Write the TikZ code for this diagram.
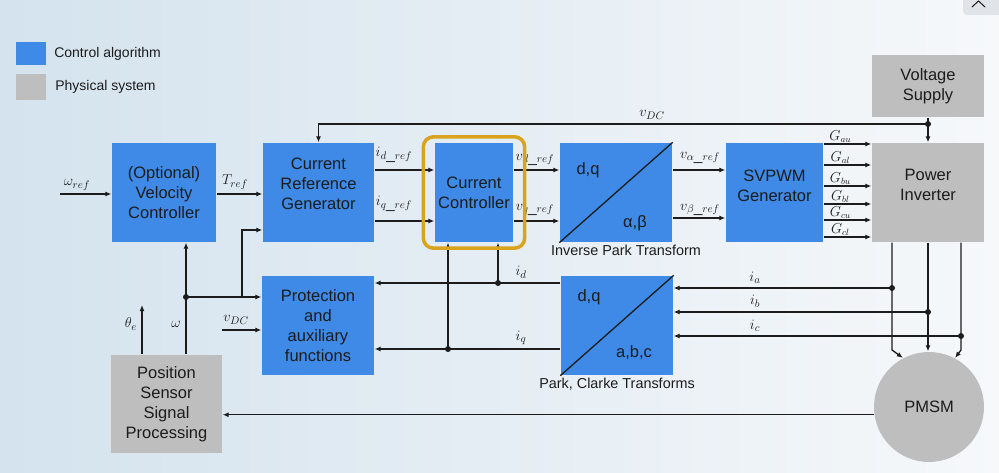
\documentclass[tikz,border=0pt]{standalone}
\usepackage{fontspec}
\setmainfont{Liberation Sans}
\usetikzlibrary{arrows.meta,positioning,fit}

\definecolor{ctlblue}{RGB}{62,138,230}
\definecolor{physgrey}{RGB}{190,190,190}
\definecolor{ringgold}{RGB}{218,163,30}
\definecolor{ink}{RGB}{28,28,28}
\definecolor{bgleft}{RGB}{212,227,238}
\definecolor{bgright}{RGB}{246,248,250}
\definecolor{btngrey}{RGB}{224,227,231}

\newcommand{\boxfont}{\fontsize{16.5}{20}\selectfont}
\newcommand{\capfont}{\fontsize{14.4}{17}\selectfont}
\newcommand{\lblfont}{\fontsize{15.5}{18}\selectfont}
\newcommand{\gfont}{\fontsize{13.5}{15}\selectfont}

\tikzset{
  ctl/.style={fill=ctlblue, align=center, font=\boxfont, inner sep=0pt},
  phys/.style={fill=physgrey, align=center, font=\boxfont, inner sep=0pt},
  arr/.style={-{Latex[length=6pt,width=5pt]}},
  lbl/.style={font=\lblfont, inner sep=0pt},
  captxt/.style={font=\capfont, inner sep=0pt},
  ring/.style={draw=ringgold, line width=3.5pt, rounded corners=10pt, inner xsep=11pt, inner ysep=5.5pt}
}

\begin{document}
\begin{tikzpicture}[x=1pt, y=-1pt, line width=1.3pt, color=ink]
\shade[left color=bgleft, right color=bgright] (0,0) rectangle (999,473);
\useasboundingbox (0,0) rectangle (999,473);

% window button
\fill[btngrey, rounded corners=4pt] (963,-6) rectangle (1004,15);
\draw[line width=1pt, line cap=round] (972,7) -- (978.5,1) -- (985,7);

% legend
\node[ctl, minimum width=30pt, minimum height=23pt] (legctl) at (31,53.5) {};
\node[font=\fontsize{14}{16}\selectfont, inner sep=0pt, right=7pt of legctl] (legctltxt) {Control algorithm};
\node[phys, minimum width=30pt, minimum height=26pt] (legphys) at (31,87) {};
\node[font=\fontsize{14}{16}\selectfont, inner sep=0pt, right=8pt of legphys] (legphystxt) {Physical system};

% blocks
\node[ctl, minimum width=104pt, minimum height=99pt] (vel) at (164,192.5) {(Optional)\\Velocity\\Controller};
\node[ctl, minimum width=111pt, minimum height=99pt, text depth=18pt] (crg) at (318.5,192.5) {Current\\Reference\\Generator};
\node[ctl, minimum width=78pt, minimum height=99pt] (cc) at (474,192.5) {Current\\Controller};
\node[ctl, minimum width=112pt, minimum height=99pt] (ipark) at (616,192.5) {};
\node[ctl, minimum width=97pt, minimum height=99pt, text depth=14pt] (svpwm) at (774.5,192.5) {SVPWM\\Generator};
\node[phys, minimum width=112pt, minimum height=99pt, text depth=15pt] (inv) at (928,192.5) {Power\\Inverter};
\node[phys, minimum width=112pt, minimum height=62pt] (vsup) at (928,86) {Voltage\\Supply};
\node[ctl, minimum width=112pt, minimum height=99pt] (prot) at (318,325.5) {Protection\\and\\auxiliary\\functions};
\node[ctl, minimum width=112pt, minimum height=99pt] (park) at (617,325.5) {};
\node[phys, minimum width=111pt, minimum height=98pt] (pss) at (166.5,404) {Position\\Sensor\\Signal\\Processing};
\node[phys, circle, minimum size=110pt] (pmsm) at (929,407) {PMSM};

% transforms
\draw (ipark.south west) -- (ipark.north east);
\node[font=\boxfont] (ipdq) at (588,170) {d,q};
\node[font=\boxfont] (ipab) at (635,223) {α,β};
\node[captxt, below=2pt of ipark, xshift=10pt] (ipcap) {Inverse Park Transform};
\draw (park.south west) -- (park.north east);
\node[font=\boxfont] (pkdq) at (589,297) {d,q};
\node[font=\boxfont] (pkabc) at (634,353) {a,b,c};
\node[captxt, below=2pt of park] (pkcap) {Park, Clarke Transforms};

% forward path
\coordinate (wref) at (60,194);
\draw[arr] (wref) -- (wref -| vel.west);
\draw[arr] (vel.east |- wref) -- (crg.west |- wref);
\draw[arr] (crg.east |- 0,170) -- (cc.west |- 0,170);
\draw[arr] (crg.east |- 0,221) -- (cc.west |- 0,221);
\draw[arr] (cc.east |- 0,170) -- (ipark.west |- 0,170);
\draw[arr] (cc.east |- 0,221) -- (ipark.west |- 0,221);
\draw[arr] (ipark.east |- 0,170) -- (svpwm.west |- 0,170);
\draw[arr] (ipark.east |- 0,218) -- (svpwm.west |- 0,218);
\foreach \gy/\gn in {144/au,165/al,186/bu,204/bl,220/cu,237/cl}
  \draw[arr] (svpwm.east |- 0,\gy) -- (inv.west |- 0,\gy)
    node[lbl, font=\gfont, pos=0.35, above=1pt] (g\gn) {$G_{\gn}$};

% dc link
\coordinate (jdc) at (vsup.south |- 0,124);
\draw (vsup.south) -- (jdc);
\draw[arr] (jdc) -- (inv.north);
\draw[arr] (jdc) -| (crg.north);
\fill (jdc) circle[radius=3pt];

% phase currents
\coordinate (ja) at (892,288);
\coordinate (jb) at (928,312);
\coordinate (jc) at (961,336);
\coordinate (ka) at (892,350);
\coordinate (kc) at (961,350);
\draw[arr] (inv.south -| ja) -- (ka) -- (pmsm.118);
\draw[arr] (inv.south -| jb) -- (jb |- pmsm.north);
\draw[arr] (inv.south -| jc) -- (kc) -- (pmsm.62);
\draw[arr] (ja) -- (ja -| park.east);
\draw[arr] (jb) -- (jb -| park.east);
\draw[arr] (jc) -- (jc -| park.east);
\foreach \j in {ja,jb,jc} \fill (\j) circle[radius=3pt];

% dq currents
\coordinate (jd) at (498,283);
\coordinate (jq) at (448,349);
\draw[arr] (park.west |- jd) -- (jd -| prot.east);
\draw[arr] (park.west |- jq) -- (jq -| prot.east);
\draw[arr] (jd) -- (jd |- cc.south);
\draw[arr] (jq) -- (jq |- cc.south);
\fill (jd) circle[radius=3pt];
\fill (jq) circle[radius=3pt];

% position feedback
\draw[arr] (pmsm.188) -- (pmsm.188 -| pss.east);
\coordinate (jw) at (186,297);
\coordinate (jw2) at (242,297);
\coordinate (th) at (142,305);
\coordinate (vdc2) at (222,330);
\draw[arr] (pss.north -| jw) -- (jw |- vel.south);
\draw[arr] (jw) -- (jw -| prot.west);
\draw[arr] (jw2) |- (crg.west |- 0,230);
\draw[arr] (pss.north -| th) -- (th);
\draw[arr] (vdc2) -- (vdc2 -| prot.west);
\fill (jw) circle[radius=3pt];

% labels
\node[lbl] (lwref) at (77,185) {$\omega_{ref}$};
\node[lbl] (ltref) at (235,182) {$T_{ref}$};
\node[lbl] (lidr) at (394,155) {$i_{d\_ref}$};
\node[lbl] (liqr) at (394,204) {$i_{q\_ref}$};
\node[lbl] (lvdr) at (535,160) {$v_{d\_ref}$};
\node[lbl] (lvqr) at (535,210) {$v_{q\_ref}$};
\node[lbl] (lvar) at (700,158) {$v_{\alpha\_ref}$};
\node[lbl] (lvbr) at (700,210) {$v_{\beta\_ref}$};
\node[lbl] (lvdc) at (652,115) {$v_{DC}$};
\node[lbl] (lid) at (521,272) {$i_d$};
\node[lbl] (liq) at (521,338) {$i_q$};
\node[lbl] (lia) at (755,278) {$i_a$};
\node[lbl] (lib) at (755,301) {$i_b$};
\node[lbl] (lic) at (755,326) {$i_c$};
\node[lbl] (lth) at (131,324) {$\theta_e$};
\node[lbl] (lw) at (176,324) {$\omega$};
\node[lbl] (lvdc2) at (236,320) {$v_{DC}$};

% highlight
\node[ring, fit=(cc)] (ccring) {};
\end{tikzpicture}
\end{document}
